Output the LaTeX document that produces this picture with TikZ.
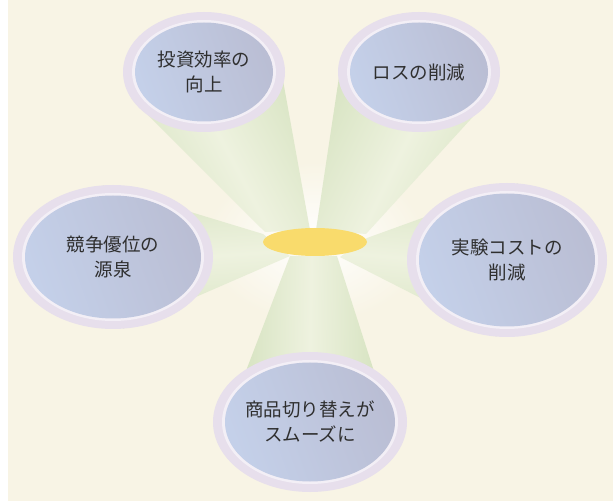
\documentclass[tikz,border=0pt]{standalone}
\usepackage{fontspec}
\setmainfont{Noto Sans CJK JP}
\usetikzlibrary{shapes.geometric}
\definecolor{bgc}{HTML}{F8F4E5}
\definecolor{rimc}{HTML}{E7DFEC}
\definecolor{ringc}{HTML}{F3EFF6}
\definecolor{corel}{HTML}{C4D0E9}
\definecolor{corem}{HTML}{DADFEE}
\definecolor{corer}{HTML}{BABED4}
\definecolor{coneg}{HTML}{D8E4C3}
\definecolor{conel}{HTML}{EEF2DF}
\definecolor{yel}{HTML}{F9DB6C}
\definecolor{txt}{HTML}{2F2F2F}
\pgfdeclarelayer{back}
\pgfdeclarelayer{bg}
\pgfsetlayers{back,bg,main}
\begin{document}
\begin{tikzpicture}[x=1pt,y=1pt,
  rim/.style={ellipse, fill=rimc, inner sep=0pt, outer sep=0pt},
  ring/.style={ellipse, fill=ringc, inner sep=0pt, outer sep=0pt},
  core/.style={ellipse, inner sep=0pt, outer sep=0pt, left color=corel, middle color=corem, right color=corer, shading angle=110},
  lbl/.style={align=center, text=txt, font=\fontsize{18.5pt}{25pt}\selectfont, inner sep=0pt},
  cone/.style={top color=coneg, bottom color=coneg, middle color=conel},
  yellownode/.style={ellipse, fill=yel, inner sep=0pt, minimum width=104pt, minimum height=28pt}]
\begin{pgfonlayer}{back}
\fill[bgc] (0,0) rectangle (613,501);
\fill[white] (0,0) rectangle (8,501);
\shade[inner color=white, outer color=bgc] (315,259) ellipse [x radius=110pt, y radius=80pt];
\end{pgfonlayer}
\useasboundingbox (0,0) rectangle (613,501);

% top-left
\node[rim, minimum width=162pt, minimum height=120pt] (A) at (204,429) {};
\node[ring, minimum width=144pt, minimum height=104pt] (Ar) at (A) {};
\node[core, minimum width=138pt, minimum height=99pt] (Ai) at (A) {};
\node[lbl] (At) at (A) {投資効率の\\向上};
% top-right
\node[rim, minimum width=162pt, minimum height=120pt] (B) at (419,429) {};
\node[ring, minimum width=144pt, minimum height=104pt] (Br) at (B) {};
\node[core, minimum width=138pt, minimum height=99pt] (Bi) at (B) {};
\node[lbl] (Bt) at (B) {ロスの削減};
% left
\node[rim, minimum width=200pt, minimum height=144pt] (C) at (113,244) {};
\node[ring, minimum width=182pt, minimum height=128pt] (Cr) at (C) {};
\node[core, minimum width=176pt, minimum height=123pt] (Ci) at (C) {};
\node[lbl] (Ct) at (C) {競争優位の\\源泉};
% right
\node[rim, minimum width=200pt, minimum height=154pt] (D) at (507,241) {};
\node[ring, minimum width=182pt, minimum height=138pt] (Dr) at (D) {};
\node[core, minimum width=176pt, minimum height=133pt] (Di) at (D) {};
\node[lbl] (Dt) at (D) {実験コストの\\削減};
% bottom
\node[rim, minimum width=194pt, minimum height=140pt] (E) at (310,79) {};
\node[ring, minimum width=176pt, minimum height=124pt] (Er) at (E) {};
\node[core, minimum width=170pt, minimum height=119pt] (Ei) at (E) {};
\node[lbl] (Et) at (E) {商品切り替えが\\スムーズに};
% centre
\node[yellownode] (Y) at (315,259) {};

\begin{pgfonlayer}{bg}
\shade[cone, shading angle=118] ([shift={(-50,10)}]Y.center) -- (A.200) -- (A.center) -- (A.20) -- ([shift={(-5,12)}]Y.center) -- cycle;
\shade[cone, shading angle=64] ([shift={(1,12)}]Y.center) -- (B.165) -- (B.center) -- (B.345) -- ([shift={(51,8)}]Y.center) -- cycle;
\shade[cone, shading angle=184] ([shift={(-52,8)}]Y.center) -- (C.98) -- (C.center) -- (C.278) -- ([shift={(-25,-14)}]Y.center) -- cycle;
\shade[cone, shading angle=-5] ([shift={(52,4)}]Y.center) -- (D.82) -- (D.center) -- (D.262) -- ([shift={(25,-15)}]Y.center) -- cycle;
\shade[cone, shading angle=269] ([shift={(-25,-14)}]Y.center) -- (E.140) -- (E.center) -- (E.40) -- ([shift={(22,-14)}]Y.center) -- cycle;
\end{pgfonlayer}
\end{tikzpicture}
\end{document}
